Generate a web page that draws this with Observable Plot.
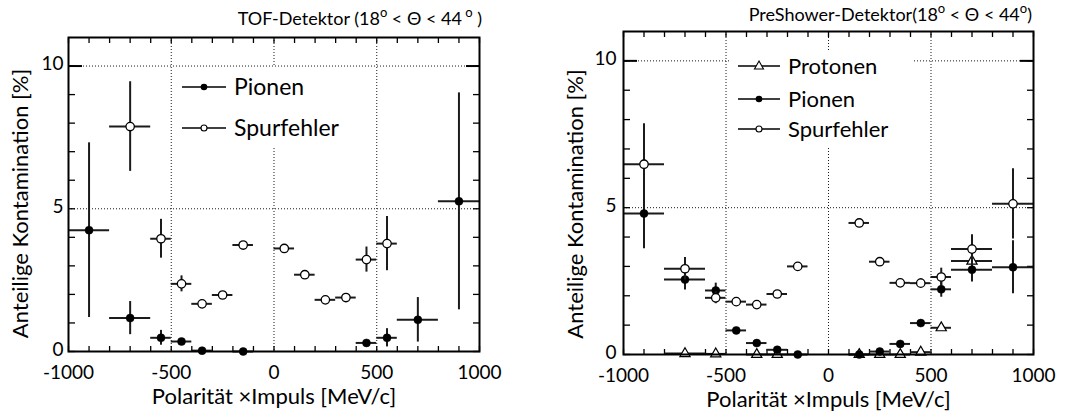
<!DOCTYPE html>
<html><head><meta charset="utf-8">
<script src="https://cdn.jsdelivr.net/npm/d3@7"></script>
<script src="https://cdn.jsdelivr.net/npm/@observablehq/plot@0.6"></script>
<style>
body{margin:0;background:#fff;}
#wrap{display:flex;width:1068px;height:414px;overflow:hidden;}
#wrap svg{overflow:visible;}
</style></head><body><div id="wrap"></div>
<script>
// ---------- TOF-Detektor (left panel) ----------
const tofPionX    = [-900, -700, -550, -450, -350, -150, 450, 550, 700, 900];
const tofPionXErr = [100, 100, 50, 50, 50, 50, 50, 50, 100, 100];
const tofPionY    = [4.25, 1.17, 0.48, 0.35, 0.03, 0.0, 0.30, 0.48, 1.11, 5.26];
const tofPionYErr = [3.06, 0.58, 0.26, 0.0, 0.0, 0.0, 0.0, 0.32, 0.78, 3.80];

const tofSpurX    = [-700, -550, -450, -350, -250, -150, 50, 150, 250, 350, 450, 550];
const tofSpurXErr = [100, 50, 50, 50, 50, 50, 50, 50, 50, 50, 50, 50];
const tofSpurY    = [7.88, 3.95, 2.37, 1.67, 1.98, 3.73, 3.61, 2.69, 1.81, 1.89, 3.22, 3.78];
const tofSpurYErr = [1.57, 0.68, 0.28, 0.0, 0.0, 0.0, 0.0, 0.0, 0.0, 0.0, 0.44, 0.95];

// ---------- PreShower-Detektor (right panel) ----------
const psProtX    = [-700, -550, -350, -250, 150, 250, 350, 450, 550, 700];
const psProtXErr = [100, 50, 50, 50, 50, 50, 50, 50, 50, 100];
const psProtY    = [0.03, 0.02, 0.0, 0.0, 0.0, 0.0, 0.0, 0.08, 0.91, 3.18];
const psProtYErr = [0.0, 0.0, 0.0, 0.0, 0.0, 0.0, 0.0, 0.0, 0.06, 0.45];

const psPionX    = [-900, -700, -550, -450, -350, -250, -150, 150, 250, 350, 450, 550, 700, 900];
const psPionXErr = [100, 100, 50, 50, 50, 50, 50, 50, 50, 50, 50, 50, 100, 100];
const psPionY    = [4.80, 2.55, 2.18, 0.82, 0.39, 0.16, 0.0, 0.0, 0.10, 0.36, 1.07, 2.22, 2.89, 2.97];
const psPionYErr = [1.20, 0.35, 0.25, 0.0, 0.0, 0.0, 0.0, 0.0, 0.0, 0.0, 0.0, 0.27, 0.42, 0.90];

const psSpurX    = [-900, -700, -550, -450, -350, -250, -150, 150, 250, 350, 450, 550, 700, 900];
const psSpurXErr = [100, 100, 50, 50, 50, 50, 50, 50, 50, 50, 50, 50, 100, 100];
const psSpurY    = [6.48, 2.92, 1.93, 1.80, 1.70, 2.06, 3.00, 4.48, 3.16, 2.44, 2.43, 2.64, 3.59, 5.13];
const psSpurYErr = [1.38, 0.38, 0.20, 0.0, 0.0, 0.0, 0.0, 0.0, 0.0, 0.0, 0.15, 0.30, 0.49, 1.20];

// ---------- axes ----------
const xMajorTicks = [-1000, -500, 0, 500, 1000];
const xGridTicks  = [-500, 0, 500];
const yMajorTicks = [0, 5, 10];
const yGridTicks  = [5, 10];
const xDomain = [-1000, 1000];
const yDomain = [0, 11];

const xTitle = "Polarität ×Impuls [MeV/c]";
const yTitle = "Anteilige Kontamination [%]";

const FONT = "Lato, 'Open Sans', sans-serif";
const INK = "#1b1b1b";

function rows(xs, xe, ys, ye) {
  return xs.map((x, i) => ({x, x1: x - xe[i], x2: x + xe[i], y: ys[i], y1: ys[i] - ye[i], y2: ys[i] + ye[i]}));
}

function seriesMarks(data, kind) {
  const marks = [
    Plot.ruleY(data, {y: "y", x1: "x1", x2: "x2", stroke: INK, strokeWidth: 2}),
    Plot.ruleX(data.filter(d => d.y2 > d.y1), {x: "x", y1: "y1", y2: "y2", stroke: INK, strokeWidth: 2})
  ];
  if (kind === "open") marks.push(Plot.dot(data, {x: "x", y: "y", r: 4.2, fill: "white", stroke: "#000", strokeWidth: 1.3}));
  if (kind === "filled") marks.push(Plot.dot(data, {x: "x", y: "y", r: 4, fill: "#000", stroke: "#000", strokeWidth: 0.5}));
  if (kind === "tri") marks.push(Plot.dot(data, {x: "x", y: "y", r: 3.8, symbol: "triangle", fill: "white", stroke: "#000", strokeWidth: 1.2}));
  return marks;
}

function panel(cfg) {
  const fmt = d => String(d);
  const xTicks = d3.range(-1000, 1001, 100);
  const yTicks = d3.range(0, 11, 1);
  const svg = Plot.plot({
    width: 534, height: 414,
    marginLeft: cfg.ml, marginRight: cfg.mr, marginTop: cfg.mt, marginBottom: cfg.mb,
    x: {domain: xDomain, label: null},
    y: {domain: yDomain, label: null},
    style: {fontFamily: FONT, background: "white", color: "#000"},
    marks: [
      Plot.gridX(xGridTicks, {stroke: "#000", strokeOpacity: 0.9, strokeWidth: 1, strokeDasharray: "1,2"}),
      Plot.gridY(yGridTicks, {stroke: "#000", strokeOpacity: 0.9, strokeWidth: 1, strokeDasharray: "1,2"}),
      Plot.axisX(xTicks, {anchor: "bottom", tickSize: 5, dy: -5, text: null, strokeWidth: 1.3, label: null}),
      Plot.axisX(xTicks, {anchor: "top", tickSize: 5, dy: 5, text: null, strokeWidth: 1.3, label: null}),
      Plot.axisY(yTicks, {anchor: "left", tickSize: 7, dx: 7, text: null, strokeWidth: 1.3, label: null}),
      Plot.axisY(yTicks, {anchor: "right", tickSize: 7, dx: -7, text: null, strokeWidth: 1.3, label: null}),
      Plot.axisY([10], {anchor: "left", tickSize: 14, dx: 14, text: null, strokeWidth: 2, label: null}),
      Plot.axisY([10], {anchor: "right", tickSize: 14, dx: -14, text: null, strokeWidth: 2, label: null}),
      Plot.axisX(xMajorTicks, {anchor: "bottom", tickSize: 0, tickPadding: 14, fontSize: 19, tickFormat: fmt, label: null}),
      Plot.axisY(yMajorTicks, {anchor: "left", tickSize: 0, tickPadding: cfg.yPad, fontSize: 19, dy: -2, tickFormat: fmt, label: null}),
      ...cfg.series.flatMap(s => seriesMarks(s.data, s.kind)),
      Plot.frame({stroke: "#000", strokeWidth: 2}),
      Plot.text([xTitle], {frameAnchor: "bottom", dy: 45, fontSize: 22, lineAnchor: "middle", textAnchor: "middle"}),
      Plot.text([yTitle], {frameAnchor: "left", dx: cfg.yTitleDx, dy: cfg.yTitleDy, rotate: -90, fontSize: 22, lineAnchor: "middle", textAnchor: "middle"})
    ]
  });
  const s = d3.select(svg);
  // title with superscript degrees
  const t = s.append("text").attr("x", cfg.titleX).attr("y", cfg.titleY)
    .attr("text-anchor", "end").attr("font-family", FONT).attr("font-size", 18).attr("fill", "#000");
  cfg.titleParts.forEach(p => {
    const ts = t.append("tspan").text(p.text);
    if (p.sup) ts.attr("font-size", 13).attr("baseline-shift", "60%");
  });
  // legend
  const lg = s.append("g");
  const L = cfg.legend;
  lg.append("rect").attr("x", L.x).attr("y", L.y).attr("width", L.w).attr("height", L.h).attr("fill", "white");
  L.items.forEach((it, i) => {
    const yy = L.rowY[i];
    lg.append("line").attr("x1", L.lx1).attr("x2", L.lx2).attr("y1", yy).attr("y2", yy).attr("stroke", "#000").attr("stroke-width", 1.5);
    const cx = (L.lx1 + L.lx2) / 2;
    if (it.kind === "filled") lg.append("circle").attr("cx", cx).attr("cy", yy).attr("r", 3.3).attr("fill", "#000");
    if (it.kind === "open") lg.append("circle").attr("cx", cx).attr("cy", yy).attr("r", 3).attr("fill", "white").attr("stroke", "#000").attr("stroke-width", 1.1);
    if (it.kind === "tri") lg.append("path").attr("d", `M${cx},${yy - 5}L${cx + 4.5},${yy + 3}L${cx - 4.5},${yy + 3}Z`).attr("fill", "white").attr("stroke", "#000").attr("stroke-width", 1.1);
    lg.append("text").attr("x", L.tx).attr("y", yy).attr("dy", "0.36em").attr("text-anchor", "start")
      .attr("font-family", FONT).attr("font-size", L.fs).attr("fill", "#000").text(it.label);
  });
  return svg;
}

const wrap = document.getElementById("wrap");

wrap.appendChild(panel({
  ml: 68, mr: 55, mt: 37, mb: 63, yPad: 5, yTitleDx: -48, yTitleDy: 9,
  titleX: 482, titleY: 25,
  titleParts: [{text: "TOF-Detektor (18"}, {text: "o", sup: true}, {text: " < Θ < 44"}, {text: " o", sup: true}, {text: " )"}],
  series: [
    {kind: "filled", data: rows(tofPionX, tofPionXErr, tofPionY, tofPionYErr)},
    {kind: "open", data: rows(tofSpurX, tofSpurXErr, tofSpurY, tofSpurYErr)}
  ],
  legend: {x: 172, y: 67, w: 190, h: 80, lx1: 182, lx2: 226, tx: 234, fs: 23, rowY: [87, 128],
    items: [{kind: "filled", label: "Pionen"}, {kind: "open", label: "Spurfehler"}]}
}));

wrap.appendChild(panel({
  ml: 89, mr: 35, mt: 31, mb: 60, yPad: 7, yTitleDx: -48, yTitleDy: 11,
  titleX: 498, titleY: 21,
  titleParts: [{text: "PreShower-Detektor(18"}, {text: "o", sup: true}, {text: " < Θ < 44"}, {text: "o", sup: true}, {text: ")"}],
  series: [
    {kind: "tri", data: rows(psProtX, psProtXErr, psProtY, psProtYErr)},
    {kind: "filled", data: rows(psPionX, psPionXErr, psPionY, psPionYErr)},
    {kind: "open", data: rows(psSpurX, psSpurXErr, psSpurY, psSpurYErr)}
  ],
  legend: {x: 196, y: 50, w: 183, h: 97, lx1: 204, lx2: 246, tx: 254, fs: 22, rowY: [66, 99, 129],
    items: [{kind: "tri", label: "Protonen"}, {kind: "filled", label: "Pionen"}, {kind: "open", label: "Spurfehler"}]}
}));
</script>
</body></html>
